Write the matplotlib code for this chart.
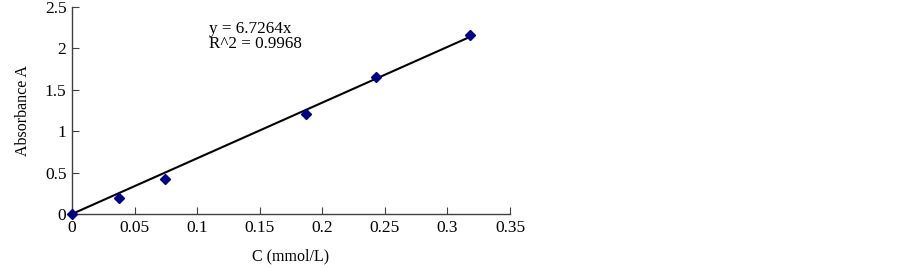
import matplotlib
matplotlib.use("Agg")
import matplotlib.pyplot as plt
import numpy as np

conc = [0.0, 0.0375, 0.0743, 0.187, 0.243, 0.318]
absorb = [0.0, 0.19, 0.42, 1.21, 1.65, 2.16]
slope = 6.7264
eq_text = "y = 6.7264x\nR^2 = 0.9968"
xticks = [0, 0.05, 0.1, 0.15, 0.2, 0.25, 0.3, 0.35]
xticklabels = ["0", "0.05", "0.1", "0.15", "0.2", "0.25", "0.3", "0.35"]
yticks = [0, 0.5, 1, 1.5, 2, 2.5]
yticklabels = ["0", "0.5", "1", "1.5", "2", "2.5"]

plt.rcParams['font.family'] = ['Liberation Serif', 'DejaVu Serif']
fig = plt.figure(figsize=(9.03, 2.68), dpi=100)
ax = fig.add_axes([72/903, 54/268, 438/903, 207/268])

xl = np.array([0, max(conc)])
ax.plot(xl, slope * xl, color='black', lw=1.5, zorder=2)
ax.plot(conc, absorb, linestyle='none', marker='D', markersize=5, color='#00008B', zorder=3, clip_on=False)

ax.set_xlim(0, 0.35)
ax.set_ylim(0, 2.5)
ax.set_xticks(xticks)
ax.set_xticklabels(xticklabels)
ax.set_yticks(yticks)
ax.set_yticklabels(yticklabels)
for s in ['top', 'right']:
    ax.spines[s].set_visible(False)
for s in ['left', 'bottom']:
    ax.spines[s].set_color('#404040')
    ax.spines[s].set_linewidth(1.0)
ax.tick_params(direction='in', length=5, labelsize=12.5, color='#404040', pad=4)
ax.set_xlabel("C (mmol/L)", fontsize=11.5, labelpad=9)
ax.set_ylabel("Absorbance A", fontsize=11.5, labelpad=10)
ax.text(0.1095, 2.33, eq_text, fontsize=12.3, va='top', ha='left', linespacing=0.9)

fig.savefig("out.png", dpi=100)
